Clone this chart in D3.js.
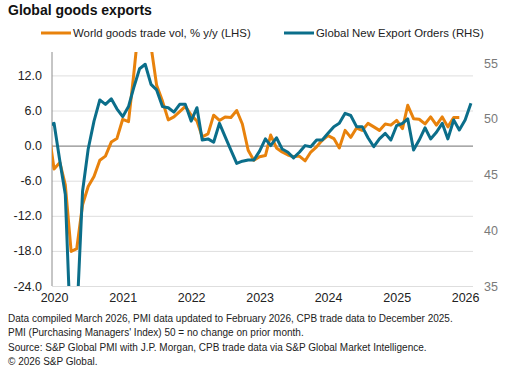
<!DOCTYPE html>
<html>
<head>
<meta charset="utf-8">
<script src="https://cdn.jsdelivr.net/npm/d3@7"></script>
<style>
  body { margin: 0; background: #fff; }
  svg { font-family: "Liberation Sans", Arial, sans-serif; }
</style>
</head>
<body>
<div id="chart"></div>
<script>
// monthly data, first point is Dec 2019 (sits just left of the plot and is clipped)
var tradeVol = [
  3.0,
  -4.0, -2.9, -6.7, -18.1, -17.6, -10.1, -7.0, -5.3, -2.5, -1.8, 0.6, 1.2,
  4.5, 4.1, 12.2, 22.0, 24.0, 17.0, 10.3, 7.6, 4.4, 4.9, 5.8, 6.7,
  5.2, 4.2, 1.5, 2.0, 5.2, 4.3, 4.9, 4.8, 6.0, 3.7, -0.8, -2.5,
  -1.9, -1.7, 1.8, -0.4, -1.1, -1.6, -1.9, -1.8, -2.6, -1.1, -0.2, 0.9,
  1.7, 1.2, -0.4, 2.6, 1.4, 3.0, 2.6, 3.8, 3.2, 2.6, 3.7, 3.5,
  4.3, 2.9, 6.9, 4.6, 4.5, 3.7, 4.9, 3.5, 4.9, 3.2, 4.8, 4.8
];
var exportOrders = [
  49.4,
  49.6, 46.2, 43.2, 29.5, 32.0, 43.5, 47.3, 49.8, 51.7, 51.3, 51.8, 50.9,
  50.2, 51.1, 52.8, 54.5, 54.9, 53.1, 52.6, 51.1, 51.0, 50.6, 51.3, 51.3,
  49.8, 51.0, 48.1, 48.2, 47.9, 49.6, 48.4, 47.2, 46.0, 46.2, 46.3, 46.3,
  47.1, 48.2, 47.6, 48.3, 47.3, 47.0, 46.5, 47.0, 47.6, 47.5, 48.1, 48.1,
  48.7, 49.3, 49.6, 50.5, 50.3, 49.3, 49.3, 48.3, 47.5, 48.2, 48.7, 48.1,
  49.4, 49.6, 50.0, 47.2, 48.1, 49.2, 48.2, 48.8, 49.6, 48.2, 49.9, 49.0,
  49.9, 51.4
];
var leftTicks = [-24, -18, -12, -6, 0, 6, 12];
var rightTicks = [35, 40, 45, 50, 55];
var yearTicks = [2020, 2021, 2022, 2023, 2024, 2025, 2026];
var seriesNames = ["World goods trade vol, % y/y (LHS)", "Global New Export Orders (RHS)"];
var footnotes = [
  "Data compiled March 2026, PMI data updated to February 2026, CPB trade data to December 2025.",
  "PMI (Purchasing Managers' Index) 50 = no change on prior month.",
  "Source: S&P Global PMI with J.P. Morgan, CPB trade data via S&P Global Market Intelligence.",
  "\u00a9 2026 S&P Global."
];

var orange = "#e8820c";
var blue = "#0b6e8a";

var svgWidth = 515;
var svgHeight = 379;
var plotL = 52, plotR = 473, plotT = 52, plotB = 286;

function monthDate(i) { return new Date(2019, 11 + i, 1); }

var svg = d3.select("#chart")
  .append("svg")
  .attr("width", svgWidth)
  .attr("height", svgHeight);

var x = d3.scaleTime()
  .domain([new Date(2019, 11, 21), new Date(2026, 1, 12)])
  .range([plotL, plotR]);
var yL = d3.scaleLinear().domain([-24, 16]).range([plotB, plotT]);
var yR = d3.scaleLinear().domain([35, 56]).range([plotB, plotT]);

// title
svg.append("text")
  .attr("x", 8).attr("y", 15)
  .attr("font-size", 14).attr("font-weight", "bold")
  .attr("fill", "#111")
  .text("Global goods exports");

// legend
var legend = [
  { name: seriesNames[0], color: orange, x1: 41 },
  { name: seriesNames[1], color: blue, x1: 284 }
];
legend.forEach(function(d) {
  svg.append("line")
    .attr("x1", d.x1).attr("x2", d.x1 + 30)
    .attr("y1", 33).attr("y2", 33)
    .attr("stroke", d.color).attr("stroke-width", 3);
  svg.append("text")
    .attr("x", d.x1 + 32).attr("y", 37)
    .attr("font-size", 11.4).attr("fill", "#222")
    .text(d.name);
});

// gridlines
svg.append("g")
  .attr("transform", `translate(${plotL},0)`)
  .call(d3.axisLeft(yL).tickValues(leftTicks).tickSize(-(plotR - plotL)).tickFormat(""))
  .call(g => g.select(".domain").remove())
  .call(g => g.selectAll(".tick line")
    .attr("stroke", d => d === 0 ? "#8c8c8c" : "#dedede")
    .attr("stroke-width", d => d === 0 ? 1.2 : 1));

// left axis line
svg.append("line")
  .attr("x1", plotL).attr("x2", plotL)
  .attr("y1", plotT).attr("y2", plotB)
  .attr("stroke", "#8c8c8c");

// left labels
svg.append("g")
  .attr("transform", `translate(${plotL},0)`)
  .call(d3.axisLeft(yL).tickValues(leftTicks).tickSize(0).tickPadding(10)
    .tickFormat(d => d.toFixed(1)))
  .call(g => g.select(".domain").remove())
  .call(g => g.selectAll("text").attr("font-size", 12.5).attr("fill", "#222")
    .attr("font-family", null));

// right labels
svg.append("g")
  .attr("transform", `translate(${plotR},0)`)
  .call(d3.axisRight(yR).tickValues(rightTicks).tickSize(0).tickPadding(11))
  .call(g => g.select(".domain").remove())
  .call(g => g.selectAll("text").attr("font-size", 12.5).attr("fill", "#7a7a7a")
    .attr("font-family", null));

// x labels
svg.append("g")
  .attr("transform", `translate(0,${plotB})`)
  .call(d3.axisBottom(x).tickValues(yearTicks.map(y => new Date(y, 0, 1)))
    .tickSize(0).tickPadding(7).tickFormat(d3.timeFormat("%Y")))
  .call(g => g.select(".domain").remove())
  .call(g => g.selectAll("text").attr("font-size", 12.5).attr("fill", "#222")
    .attr("font-family", null));

// lines
svg.append("clipPath").attr("id", "clip")
  .append("rect")
  .attr("x", plotL).attr("y", plotT)
  .attr("width", plotR - plotL).attr("height", plotB - plotT);

var plot = svg.append("g").attr("clip-path", "url(#clip)");

var lineL = d3.line().x((d, i) => x(monthDate(i))).y(d => yL(d));
var lineR = d3.line().x((d, i) => x(monthDate(i))).y(d => yR(d));

plot.append("path")
  .datum(tradeVol)
  .attr("d", lineL)
  .attr("fill", "none")
  .attr("stroke", orange)
  .attr("stroke-width", 3)
  .attr("stroke-linejoin", "round");

plot.append("path")
  .datum(exportOrders)
  .attr("d", lineR)
  .attr("fill", "none")
  .attr("stroke", blue)
  .attr("stroke-width", 3)
  .attr("stroke-linejoin", "round");

// footnotes
svg.append("g")
  .selectAll("text")
  .data(footnotes)
  .enter()
  .append("text")
  .attr("x", 8)
  .attr("y", (d, i) => 322 + i * 14.4)
  .attr("font-size", 10)
  .attr("fill", "#222")
  .text(d => d);
</script>
</body>
</html>
